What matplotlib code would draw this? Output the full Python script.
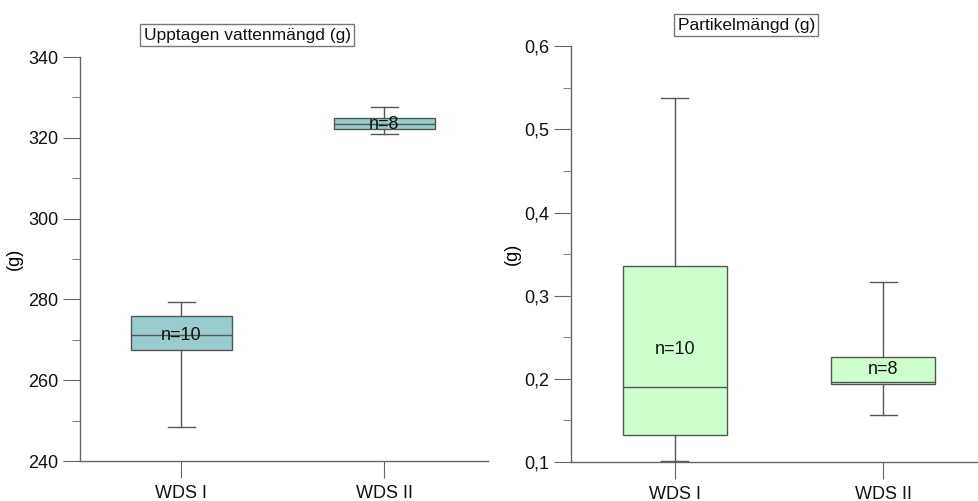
import matplotlib
matplotlib.use("Agg")
import matplotlib.pyplot as plt
from matplotlib.ticker import MultipleLocator, FixedLocator

plt.rcParams['font.family'] = ['Liberation Sans', 'DejaVu Sans']

# Data
kategorier = ['WDS I', 'WDS II']
antal = ['n=10', 'n=8']

# Upptagen vattenmängd (g)
vatten_min = [248.5, 321.0]
vatten_q1 = [267.6, 322.1]
vatten_med = [271.1, 323.4]
vatten_q3 = [275.9, 324.8]
vatten_max = [279.4, 327.7]
vatten_text_y = [271.1, 323.4]

# Partikelmängd (g)
partikel_min = [0.101, 0.1565]
partikel_q1 = [0.132, 0.194]
partikel_med = [0.1906, 0.1966]
partikel_q3 = [0.336, 0.226]
partikel_max = [0.538, 0.317]
partikel_text_y = [0.235, 0.211]

partikel_ticks = [0.1, 0.2, 0.3, 0.4, 0.5, 0.6]
partikel_ticklabels = ['0,1', '0,2', '0,3', '0,4', '0,5', '0,6']

linjefarg = '#555555'


def rita_box(ax, lo, q1, med, q3, hi, farg):
    stats = []
    for i in range(len(kategorier)):
        stats.append({'whislo': lo[i], 'q1': q1[i], 'med': med[i],
                      'q3': q3[i], 'whishi': hi[i], 'label': kategorier[i]})
    ax.bxp(stats, positions=[1, 2], widths=0.5, showfliers=False,
           patch_artist=True,
           boxprops=dict(facecolor=farg, edgecolor=linjefarg, linewidth=1),
           medianprops=dict(color=linjefarg, linewidth=1),
           whiskerprops=dict(color=linjefarg, linewidth=1),
           capprops=dict(color=linjefarg, linewidth=1),
           capwidths=0.13)


def stil(ax):
    for s in ['top', 'right']:
        ax.spines[s].set_visible(False)
    for s in ['left', 'bottom']:
        ax.spines[s].set_color('#666666')
        ax.spines[s].set_linewidth(1)
    ax.tick_params(axis='both', which='major', length=12, color='#666666',
                   labelsize=13, labelcolor='#111111')
    ax.tick_params(axis='y', which='minor', length=6, color='#666666')
    ax.tick_params(axis='x', pad=5)


fig = plt.figure(figsize=(9.79, 5.01), dpi=100)

# vänster
ax1 = fig.add_axes([0.0817, 0.0798, 0.4168, 0.8064])
rita_box(ax1, vatten_min, vatten_q1, vatten_med, vatten_q3, vatten_max, '#99CCCC')
ax1.set_xlim(0.5, 2.51)
ax1.set_ylim(240, 340)
ax1.yaxis.set_major_locator(MultipleLocator(20))
ax1.yaxis.set_minor_locator(MultipleLocator(10))
ax1.set_xticks([1, 2])
ax1.set_xticklabels(kategorier)
ax1.set_ylabel('(g)', fontsize=13, labelpad=4)
stil(ax1)
for i in range(len(kategorier)):
    ax1.text(i + 1, vatten_text_y[i], antal[i], ha='center', va='center',
             fontsize=13, color='#111111')
ax1.text(0.41, 1.0 + 22 / 404, 'Upptagen vattenmängd (g)', transform=ax1.transAxes,
         ha='center', va='center', fontsize=12.5, color='#111111',
         bbox=dict(boxstyle='square,pad=0.2', facecolor='white', edgecolor='#777777', linewidth=1))

# höger
ax2 = fig.add_axes([0.583, 0.0778, 0.417, 0.8298])
rita_box(ax2, partikel_min, partikel_q1, partikel_med, partikel_q3, partikel_max, '#CCFFCC')
ax2.set_xlim(0.5, 2.46)
ax2.set_ylim(0.1, 0.6)
ax2.yaxis.set_major_locator(FixedLocator(partikel_ticks))
ax2.set_yticklabels(partikel_ticklabels)
ax2.yaxis.set_minor_locator(MultipleLocator(0.05))
ax2.set_xticks([1, 2])
ax2.set_xticklabels(kategorier)
ax2.set_ylabel('(g)', fontsize=13, labelpad=2)
stil(ax2)
for i in range(len(kategorier)):
    ax2.text(i + 1, partikel_text_y[i], antal[i], ha='center', va='center',
             fontsize=13, color='#111111')
ax2.text(175.5 / 408, 1.0 + 21 / 416, 'Partikelmängd (g)', transform=ax2.transAxes,
         ha='center', va='center', fontsize=12.5, color='#111111',
         bbox=dict(boxstyle='square,pad=0.2', facecolor='white', edgecolor='#777777', linewidth=1))

fig.savefig('out.png', dpi=100, facecolor='white')
